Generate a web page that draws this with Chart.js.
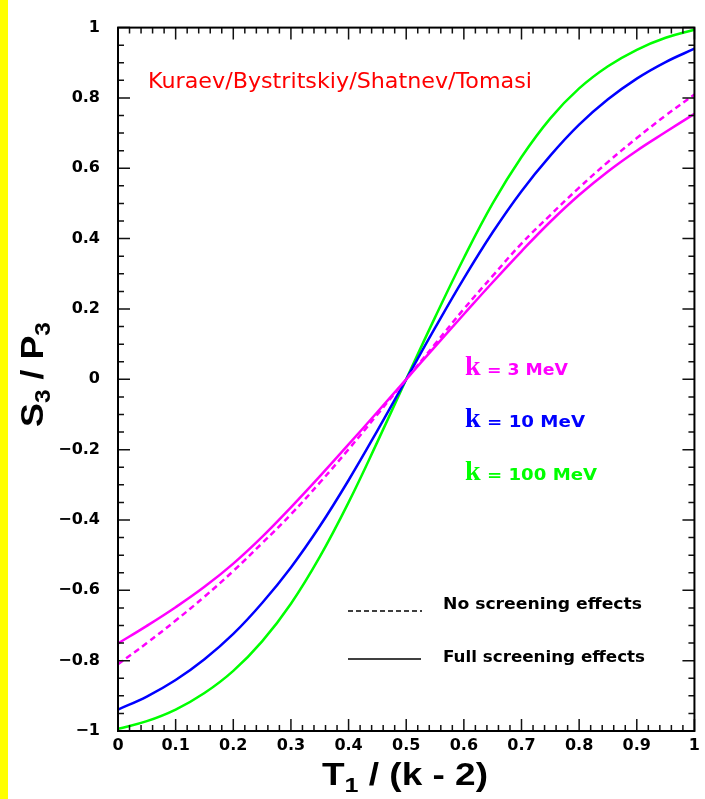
<!DOCTYPE html>
<html>
<head>
<meta charset="utf-8">
<script src="https://cdn.jsdelivr.net/npm/chart.js@4.4.0/dist/chart.umd.min.js"></script>
<style>
  html, body { margin: 0; padding: 0; background: #fff; }
</style>
</head>
<body>
<canvas id="polChart" width="705" height="799"></canvas>
<script>
// T1/(k-2) sample points
const xValues = [0, 0.05, 0.1, 0.15, 0.2, 0.25, 0.3, 0.35, 0.4, 0.45, 0.5,
                 0.55, 0.6, 0.65, 0.7, 0.75, 0.8, 0.85, 0.9, 0.95, 1];
// S3/P3, k = 3 MeV, full screening (solid magenta)
const k3Full = [-0.751, -0.701, -0.648, -0.590, -0.524, -0.448, -0.364, -0.276, -0.185, -0.093, 0,
                0.093, 0.185, 0.276, 0.364, 0.448, 0.524, 0.591, 0.650, 0.703, 0.755];
// k = 3 MeV, no screening (dashed magenta)
const k3NoScreen = [-0.810, -0.750, -0.686, -0.618, -0.545, -0.466, -0.384, -0.294, -0.199, -0.100, 0,
                    0.100, 0.200, 0.294, 0.386, 0.467, 0.545, 0.618, 0.686, 0.750, 0.810];
// k = 10 MeV, full screening (blue)
const k10Full = [-0.939, -0.902, -0.855, -0.796, -0.724, -0.636, -0.535, -0.418, -0.287, -0.146, 0,
                 0.146, 0.287, 0.418, 0.535, 0.636, 0.724, 0.796, 0.855, 0.902, 0.940];
// k = 100 MeV, full screening (green)
const k100Full = [-0.994, -0.972, -0.939, -0.892, -0.829, -0.745, -0.638, -0.505, -0.350, -0.178, 0,
                  0.176, 0.345, 0.500, 0.632, 0.742, 0.827, 0.890, 0.937, 0.971, 0.994];

const xTickStep = 0.1;
const yTickStep = 0.2;

function toPoints(ys) {
  return xValues.map((x, i) => ({ x: x, y: ys[i] }));
}

function fmt(v) {
  const r = Math.round(v * 10) / 10;
  return String(r).replace('-', '\u2212');
}

// draw a run of text pieces, stretched to a given width
function drawParts(ctx, parts, x, y, width) {
  let natural = 0;
  parts.forEach(p => {
    ctx.font = p.font;
    p.w = ctx.measureText(p.text).width;
    natural += p.w;
  });
  const sx = width ? width / natural : 1;
  ctx.save();
  ctx.translate(x, y);
  ctx.scale(sx, 1);
  ctx.textAlign = 'left';
  ctx.textBaseline = 'alphabetic';
  let cx = 0;
  parts.forEach(p => {
    ctx.font = p.font;
    ctx.fillStyle = p.color || '#000';
    ctx.fillText(p.text, cx, p.dy || 0);
    cx += p.w;
  });
  ctx.restore();
}

const framePlugin = {
  id: 'framePlugin',
  beforeDraw(chart) {
    const ctx = chart.ctx;
    ctx.save();
    ctx.fillStyle = '#ffffff';
    ctx.fillRect(0, 0, chart.width, chart.height);
    ctx.fillStyle = '#ffff00';
    ctx.fillRect(0, 0, 8, chart.height);
    ctx.restore();
  },
  afterDraw(chart) {
    const ctx = chart.ctx;
    const a = chart.chartArea;
    const xs = chart.scales.x;
    const ys = chart.scales.y;
    ctx.save();

    // inward ticks on all four sides
    ctx.strokeStyle = '#111';
    ctx.lineWidth = 1.5;
    ctx.beginPath();
    for (let i = 0; i <= 50; i++) {
      const px = xs.getPixelForValue(i / 50);
      const len = i % 5 === 0 ? 12 : 6;
      ctx.moveTo(px, a.bottom); ctx.lineTo(px, a.bottom - len);
      ctx.moveTo(px, a.top); ctx.lineTo(px, a.top + len);
    }
    for (let i = 0; i <= 40; i++) {
      const py = ys.getPixelForValue(-1 + i / 20);
      const len = i % 4 === 0 ? 12 : 6;
      ctx.moveTo(a.left, py); ctx.lineTo(a.left + len, py);
      ctx.moveTo(a.right, py); ctx.lineTo(a.right - len, py);
    }
    ctx.stroke();
    ctx.lineWidth = 2;
    ctx.strokeStyle = '#000';
    ctx.strokeRect(a.left, a.top, a.right - a.left, a.bottom - a.top);

    // axis titles
    drawParts(ctx, [
      { text: 'T', font: 'bold 31px "Liberation Sans"' },
      { text: '1', font: 'bold 21px "Liberation Sans"', dy: 7 },
      { text: ' / (k - 2)', font: 'bold 31px "Liberation Sans"' }
    ], 322, 785, 166);

    ctx.save();
    ctx.translate(43, 427);
    ctx.rotate(-Math.PI / 2);
    drawParts(ctx, [
      { text: 'S', font: 'bold 32px "Liberation Sans"' },
      { text: '3', font: 'bold 22px "Liberation Sans"', dy: 7 },
      { text: ' / ', font: 'bold 32px "Liberation Sans"' },
      { text: 'P', font: 'bold 32px "Liberation Sans"' },
      { text: '3', font: 'bold 22px "Liberation Sans"', dy: 7 }
    ], 0, 0, 105);
    ctx.restore();

    // authors
    drawParts(ctx, [
      { text: 'Kuraev/Bystritskiy/Shatnev/Tomasi', font: '21px "DejaVu Sans"', color: '#ff0000' }
    ], 148, 88, 384);

    // energy labels
    const kLabels = [
      { txt: '= 3 MeV', color: '#ff00ff', base: 375, w: 81 },
      { txt: '= 10 MeV', color: '#0000ff', base: 427, w: 98 },
      { txt: '= 100 MeV', color: '#00ff00', base: 480, w: 110 }
    ];
    kLabels.forEach(k => {
      drawParts(ctx, [{ text: 'k', font: 'bold 28px "Liberation Serif"', color: k.color }], 465, k.base);
      drawParts(ctx, [{ text: k.txt, font: 'bold 16px "DejaVu Sans"', color: k.color }], 487, k.base, k.w);
    });

    // screening legend
    ctx.strokeStyle = '#000';
    ctx.lineWidth = 1.5;
    ctx.setLineDash([5, 3]);
    ctx.beginPath(); ctx.moveTo(348, 611); ctx.lineTo(422, 611); ctx.stroke();
    ctx.setLineDash([]);
    ctx.beginPath(); ctx.moveTo(348, 659); ctx.lineTo(421, 659); ctx.stroke();
    drawParts(ctx, [{ text: 'No screening effects', font: 'bold 16px "DejaVu Sans"' }], 443, 609, 199);
    drawParts(ctx, [{ text: 'Full screening effects', font: 'bold 16px "DejaVu Sans"' }], 443, 662, 202);

    ctx.restore();
  }
};

const ctx = document.getElementById('polChart').getContext('2d');
new Chart(ctx, {
  type: 'line',
  data: {
    datasets: [
      {
        label: 'k = 3 MeV, no screening',
        data: toPoints(k3NoScreen),
        borderColor: '#ff00ff',
        borderWidth: 2.5,
        borderDash: [6, 4],
        fill: false
      },
      {
        label: 'k = 3 MeV',
        data: toPoints(k3Full),
        borderColor: '#ff00ff',
        borderWidth: 2.5,
        fill: false
      },
      {
        label: 'k = 10 MeV',
        data: toPoints(k10Full),
        borderColor: '#0000ff',
        borderWidth: 2.5,
        fill: false
      },
      {
        label: 'k = 100 MeV',
        data: toPoints(k100Full),
        borderColor: '#00ff00',
        borderWidth: 2.5,
        fill: false
      }
    ]
  },
  options: {
    responsive: false,
    animation: false,
    elements: { point: { radius: 0 }, line: { tension: 0.4 } },
    layout: { padding: { top: 17, right: 10, bottom: 0, left: 0 } },
    plugins: { legend: { display: false }, tooltip: { enabled: false } },
    scales: {
      x: {
        type: 'linear',
        min: 0,
        max: 1,
        afterFit: s => { s.height = 68; },
        grid: { display: false, drawTicks: false },
        border: { display: false },
        ticks: {
          stepSize: xTickStep,
          autoSkip: false,
          maxRotation: 0,
          padding: 5,
          color: '#000',
          font: { family: 'DejaVu Sans', size: 16, weight: 'bold' },
          callback: v => fmt(v)
        }
      },
      y: {
        type: 'linear',
        min: -1,
        max: 1,
        afterFit: s => { s.width = 118; },
        grid: { display: false, drawTicks: false },
        border: { display: false },
        ticks: {
          stepSize: yTickStep,
          autoSkip: false,
          padding: 18,
          color: '#000',
          font: { family: 'DejaVu Sans', size: 16, weight: 'bold' },
          callback: v => fmt(v)
        }
      }
    }
  },
  plugins: [framePlugin]
});
</script>
</body>
</html>
